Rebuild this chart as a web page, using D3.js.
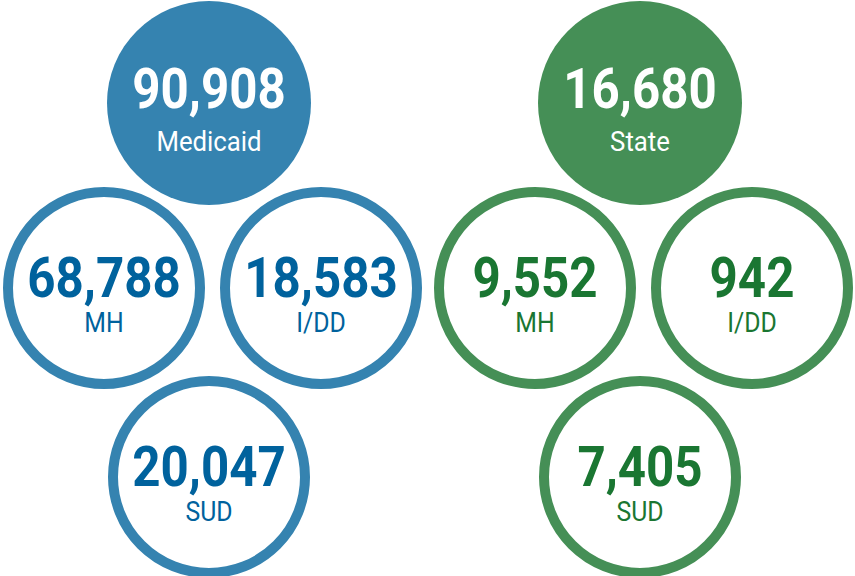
<!DOCTYPE html>
<html>
<head>
<meta charset="utf-8">
<script src="https://cdn.jsdelivr.net/npm/d3@7"></script>
<style>
  html, body { margin: 0; padding: 0; background: #fff; }
  svg { display: block; }
  .num { font-family: Roboto, "DejaVu Sans Condensed", sans-serif; font-weight: bold; }
  .lbl { font-family: Roboto, "DejaVu Sans Condensed", sans-serif; }
</style>
</head>
<body>
<svg id="chart"></svg>
<script>
// data
const groups = ["Medicaid", "State"];
const totals = [90908, 16680];
const categories = ["MH", "I/DD", "SUD"];
const medicaidValues = [68788, 18583, 20047];
const stateValues = [9552, 942, 7405];

const width = 855, height = 576;
const svg = d3.select("#chart").attr("width", width).attr("height", height);

// colours per group: fill/ring, dark text
const ringColor = d3.scaleOrdinal().domain(groups).range(["#3583b0", "#458f56"]);
const textColor = d3.scaleOrdinal().domain(groups).range(["#00629d", "#1a7632"]);

// group centre x
const xGroup = d3.scalePoint().domain(groups).range([209, 640]);
// sub-circle offsets from group centre
const dx = d3.scaleOrdinal().domain(categories).range([-105, 112, 0]);
const yRow = d3.scaleOrdinal().domain(["total", "MH", "I/DD", "SUD"]).range([103, 288, 288, 477]);

const fmt = d3.format(",");
const r = 96, stroke = 10, rTop = 102;
// condensed look: squeeze the glyphs horizontally
const numSquash = 0.88, lblSquash = 0.92;

const data = groups.map((g, i) => ({
  group: g,
  total: totals[i],
  parts: categories.map((c, j) => ({ cat: c, value: (i === 0 ? medicaidValues : stateValues)[j] }))
}));

const grp = svg.selectAll("g.group")
  .data(data)
  .join("g")
  .attr("class", "group");

// top filled circle
const head = grp.append("g")
  .attr("transform", d => `translate(${xGroup(d.group)},${yRow("total")})`);

head.append("circle")
  .attr("r", rTop)
  .attr("fill", d => ringColor(d.group));

head.append("text")
  .attr("class", "num")
  .attr("text-anchor", "middle")
  .attr("transform", `translate(0,5) scale(${numSquash},1)`)
  .attr("font-size", 56)
  .attr("fill", "#fff")
  .text(d => fmt(d.total));

head.append("text")
  .attr("class", "lbl")
  .attr("text-anchor", "middle")
  .attr("transform", `translate(0,48) scale(${lblSquash},1)`)
  .attr("font-size", 28)
  .attr("fill", "#fff")
  .text(d => d.group);

// ring circles
const sub = grp.selectAll("g.sub")
  .data(d => d.parts.map(p => ({ ...p, group: d.group })))
  .join("g")
  .attr("class", "sub")
  .attr("transform", d => `translate(${xGroup(d.group) + dx(d.cat)},${yRow(d.cat)})`);

sub.append("circle")
  .attr("r", r)
  .attr("fill", "#fff")
  .attr("stroke", d => ringColor(d.group))
  .attr("stroke-width", stroke);

sub.append("text")
  .attr("class", "num")
  .attr("text-anchor", "middle")
  .attr("transform", `translate(0,9) scale(${numSquash},1)`)
  .attr("font-size", 56)
  .attr("fill", d => textColor(d.group))
  .text(d => fmt(d.value));

sub.append("text")
  .attr("class", "lbl")
  .attr("text-anchor", "middle")
  .attr("transform", `translate(0,44) scale(${lblSquash},1)`)
  .attr("font-size", 27)
  .attr("fill", d => textColor(d.group))
  .text(d => d.cat);
</script>
</body>
</html>
